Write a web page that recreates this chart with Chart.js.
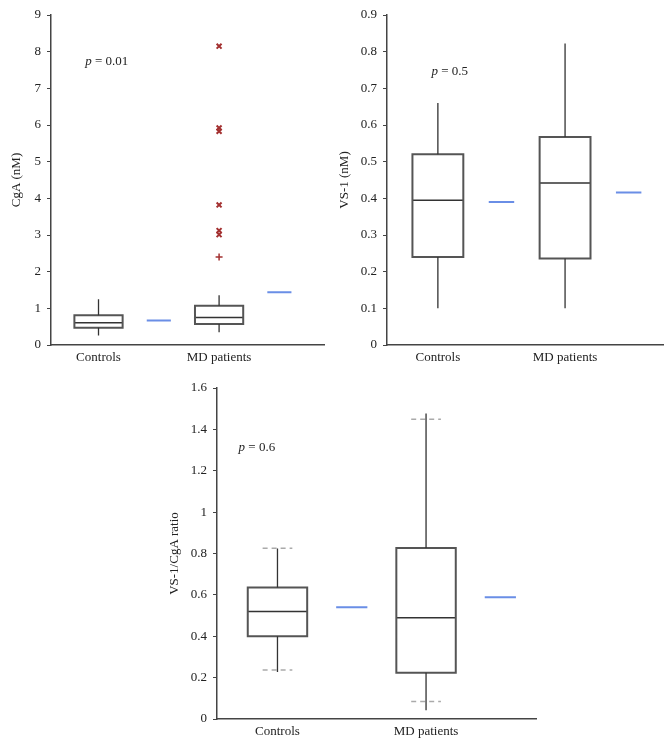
<!DOCTYPE html>
<html>
<head>
<meta charset="utf-8">
<script src="https://cdn.jsdelivr.net/npm/chart.js@4.4.1/dist/chart.umd.min.js"></script>
<style>
    body { margin: 0; background: #fff; }
    #wrap { position: relative; width: 672px; height: 745px; }
    canvas { position: absolute; }
</style>
</head>
<body>
<div id="wrap">
    <canvas id="cgaChart" width="330" height="372" style="left:0;top:0"></canvas>
    <canvas id="vsChart" width="336" height="372" style="left:336px;top:0"></canvas>
    <canvas id="ratioChart" width="380" height="373" style="left:160px;top:372px"></canvas>
</div>
<script>
var groups = ['Controls', 'MD patients'];
var groupPos = [1, 2];
var meanPos = [1.5, 2.5];

// CgA (nM)
var cgaLow = [0.26, 0.35];
var cgaQ1 = [0.47, 0.57];
var cgaMedian = [0.61, 0.75];
var cgaQ3 = [0.81, 1.07];
var cgaHigh = [1.25, 1.36];
var cgaMean = [0.665, 1.44];
var cgaOutliers = [8.15, 5.92, 5.83, 3.82, 3.12, 3.01];   // MD patients, far
var cgaMildOutliers = [2.40];                             // MD patients, near
var cgaTicks = [0, 1, 2, 3, 4, 5, 6, 7, 8, 9];

// VS-1 (nM)
var vsLow = [0.10, 0.10];
var vsQ1 = [0.24, 0.236];
var vsMedian = [0.395, 0.442];
var vsQ3 = [0.52, 0.567];
var vsHigh = [0.66, 0.822];
var vsMean = [0.39, 0.416];
var vsTicks = [0, 0.1, 0.2, 0.3, 0.4, 0.5, 0.6, 0.7, 0.8, 0.9];

// VS-1/CgA ratio
var ratioLow = [0.227, 0.042];
var ratioQ1 = [0.40, 0.224];
var ratioMedian = [0.52, 0.489];
var ratioQ3 = [0.636, 0.827];
var ratioHigh = [0.824, 1.477];
var ratioMean = [0.54, 0.589];
var ratioCapLow = [0.237, 0.084];
var ratioCapHigh = [0.825, 1.449];
var ratioTicks = [0, 0.2, 0.4, 0.6, 0.8, 1, 1.2, 1.4, 1.6];

var BOX_HALF = 0.2;
var CAP_HALF = 0.1;

Chart.defaults.font.family = '"Liberation Serif", "DejaVu Serif", serif';
Chart.defaults.font.size = 13;
Chart.defaults.color = '#222';
Chart.defaults.animation = false;

// draws "p = ..." at a data position
var pValuePlugin = {
    id: 'pValue',
    afterDraw: function (chart, args, opts) {
        if (!opts.text) { return; }
        var ctx = chart.ctx;
        var x = chart.scales.x.getPixelForValue(opts.x);
        var y = chart.scales.y.getPixelForValue(opts.y);
        ctx.save();
        ctx.textBaseline = 'middle';
        ctx.fillStyle = '#222';
        ctx.font = 'italic 13px "Liberation Serif"';
        ctx.fillText('p', x, y);
        var w = ctx.measureText('p').width;
        ctx.font = '13px "Liberation Serif"';
        ctx.fillText(' = ' + opts.text, x + w, y);
        ctx.restore();
    }
};

function boxOutline(pos, q1, q3, half) {
    var pts = [];
    for (var i = 0; i < pos.length; i++) {
        pts.push({ x: pos[i], y: q1[i] }, { x: pos[i] + half, y: q1[i] },
            { x: pos[i] + half, y: q3[i] }, { x: pos[i] - half, y: q3[i] },
            { x: pos[i] - half, y: q1[i] }, { x: pos[i], y: q1[i] }, { x: pos[i], y: null });
    }
    return pts;
}

function hLines(pos, vals, half) {
    var pts = [];
    for (var i = 0; i < pos.length; i++) {
        pts.push({ x: pos[i] - half, y: vals[i] }, { x: pos[i] + half, y: vals[i] }, { x: pos[i], y: null });
    }
    return pts;
}

function vLines(pos, from, to) {
    var pts = [];
    for (var i = 0; i < pos.length; i++) {
        pts.push({ x: pos[i], y: from[i] }, { x: pos[i], y: to[i] }, { x: pos[i], y: null });
    }
    return pts;
}

function lineSet(data, color, width, dash) {
    return {
        type: 'line',
        data: data,
        borderColor: color,
        borderWidth: width,
        borderDash: dash || [],
        borderJoinStyle: 'miter',
        pointRadius: 0,
        tension: 0,
        fill: false,
        spanGaps: false
    };
}

function makeBoxChart(id, p) {
    var datasets = [
        lineSet(vLines(groupPos, p.q3, p.high).concat(vLines(groupPos, p.low, p.q1)), '#333', 1.3),
        lineSet(boxOutline(groupPos, p.q1, p.q3, BOX_HALF), '#555', 2),
        lineSet(hLines(groupPos, p.median, BOX_HALF), '#333', 1.5),
        lineSet(hLines(meanPos, p.mean, p.meanHalf), '#6a8ee6', 2)
    ];
    if (p.capLow) {
        datasets.push(lineSet(hLines(groupPos, p.capLow, CAP_HALF).concat(hLines(groupPos, p.capHigh, CAP_HALF)), '#aaa', 1.5, [5, 4]));
    }
    if (p.outliers) {
        datasets.push({
            type: 'scatter',
            data: p.outliers.map(function (v) { return { x: groupPos[1], y: v }; }),
            pointStyle: 'crossRot', pointRadius: 3.5, borderWidth: 2,
            borderColor: '#a33030', backgroundColor: '#a33030', showLine: false
        });
        datasets.push({
            type: 'scatter',
            data: p.mildOutliers.map(function (v) { return { x: groupPos[1], y: v }; }),
            pointStyle: 'cross', pointRadius: 3.5, borderWidth: 1.5,
            borderColor: '#a33030', backgroundColor: '#a33030', showLine: false
        });
    }

    return new Chart(document.getElementById(id), {
        type: 'line',
        data: { datasets: datasets },
        plugins: [pValuePlugin],
        options: {
            responsive: false,
            layout: { padding: p.padding },
            plugins: {
                legend: { display: false },
                tooltip: { enabled: false },
                pValue: p.pValue
            },
            scales: {
                x: {
                    type: 'linear',
                    min: p.xMin,
                    max: p.xMax,
                    afterBuildTicks: function (s) {
                        s.ticks = groupPos.map(function (v) { return { value: v }; });
                    },
                    afterFit: function (s) { s.height = p.xHeight; },
                    grid: { display: false, drawTicks: false },
                    border: { display: true, color: '#444', width: 1.5 },
                    ticks: {
                        padding: 5, maxRotation: 0, autoSkip: false,
                        callback: function (v, i) { return groups[i]; }
                    }
                },
                y: {
                    type: 'linear',
                    min: 0,
                    max: p.ticks[p.ticks.length - 1],
                    afterBuildTicks: function (s) {
                        s.ticks = p.ticks.map(function (v) { return { value: v }; });
                    },
                    afterFit: function (s) { s.width = p.yWidth; },
                    grid: { drawOnChartArea: false, drawTicks: true, tickLength: 4, color: '#444', lineWidth: 1 },
                    border: { display: true, color: '#444', width: 1.5 },
                    ticks: { padding: 6, callback: function (v) { return String(v); } },
                    title: { display: true, text: p.title, padding: { top: p.titlePad, bottom: 0 }, font: { size: 13 } }
                }
            }
        }
    });
}

makeBoxChart('cgaChart', {
    low: cgaLow, q1: cgaQ1, median: cgaMedian, q3: cgaQ3, high: cgaHigh, mean: cgaMean,
    outliers: cgaOutliers, mildOutliers: cgaMildOutliers, ticks: cgaTicks,
    title: 'CgA (nM)', meanHalf: 0.1,
    xMin: 0.606, xMax: 2.87, yWidth: 51, xHeight: 27, titlePad: 9,
    padding: { left: 0, top: 15, right: 6, bottom: 0 },
    pValue: { text: '0.01', x: 0.89, y: 7.74 }
});

makeBoxChart('vsChart', {
    low: vsLow, q1: vsQ1, median: vsMedian, q3: vsQ3, high: vsHigh, mean: vsMean,
    ticks: vsTicks, title: 'VS-1 (nM)', meanHalf: 0.1,
    xMin: 0.6, xMax: 2.77, yWidth: 51, xHeight: 27, titlePad: 1,
    padding: { left: 0, top: 15, right: 9, bottom: 0 },
    pValue: { text: '0.5', x: 0.95, y: 0.746 }
});

makeBoxChart('ratioChart', {
    low: ratioLow, q1: ratioQ1, median: ratioMedian, q3: ratioQ3, high: ratioHigh, mean: ratioMean,
    capLow: ratioCapLow, capHigh: ratioCapHigh,
    ticks: ratioTicks, title: 'VS-1/CgA ratio', meanHalf: 0.105,
    xMin: 0.593, xMax: 2.74, yWidth: 57, xHeight: 26, titlePad: 7,
    padding: { left: 0, top: 16, right: 4, bottom: 0 },
    pValue: { text: '0.6', x: 0.738, y: 1.311 }
});
</script>
</body>
</html>
